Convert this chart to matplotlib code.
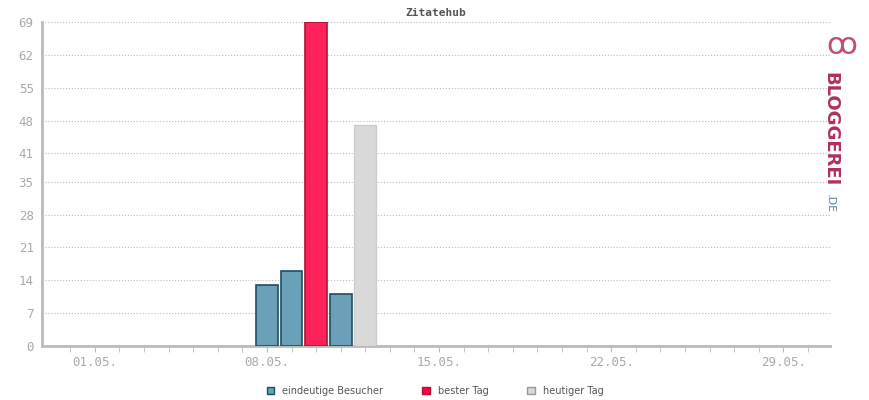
import matplotlib.pyplot as plt
import matplotlib.transforms as mtrans
from matplotlib.patches import Patch

blue_days = [8, 9, 11]
blue_vals = [13, 16, 11]
best_day = [10]
best_val = [69]
today_day = [12]
today_val = [47]
yticks = [0, 7, 14, 21, 28, 35, 41, 48, 55, 62, 69]
label_days = [1, 8, 15, 22, 29]
labels = ['01.05.', '08.05.', '15.05.', '22.05.', '29.05.']

fig = plt.figure(figsize=(8.7, 4), dpi=100)
ax = fig.add_axes([42/870, 1-346/400, (830-42)/870, (346-22)/400])
ax.bar(blue_days, blue_vals, width=0.88, color='#6aa0b8', edgecolor='#1f4e5f', linewidth=1.2, zorder=3)
ax.bar(best_day, best_val, width=0.88, color='#ff225a', edgecolor='#b0103a', linewidth=1.2, zorder=3)
ax.bar(today_day, today_val, width=0.88, color='#d9d9d9', edgecolor='#cccccc', linewidth=1, zorder=3)

ax.set_xlim(-1.15, 30.9)
ax.set_ylim(0, 69)
ax.set_yticks(yticks)
ax.set_yticklabels([str(v) for v in yticks], family='DejaVu Sans Mono', color='#aaaaaa', fontsize=9)
ax.set_xticks(range(0, 31), minor=True)
ax.set_xticks(label_days)
ax.set_xticklabels(labels, family='DejaVu Sans Mono', color='#aaaaaa', fontsize=9)
# labels sit a bit left of their ticks
off = mtrans.ScaledTranslation(-8/100, 0, fig.dpi_scale_trans)
for t in ax.get_xticklabels():
    t.set_transform(t.get_transform() + off)
ax.tick_params(axis='x', which='both', length=4, color='#bbbbbb', direction='out')
ax.tick_params(axis='y', length=0, pad=6)
ax.grid(axis='y', linestyle=':', color='#bbbbbb', linewidth=0.8, zorder=0)
for s in ['top', 'right']:
    ax.spines[s].set_visible(False)
for s in ['left', 'bottom']:
    ax.spines[s].set_color('#bbbbbb')
    ax.spines[s].set_linewidth(2)
ax.set_title('Zitatehub', family='DejaVu Sans Mono', fontsize=8, color='#555555', fontweight='bold', pad=4)

handles = [Patch(facecolor='#6aa0b8', edgecolor='#1f4e5f', label='eindeutige Besucher'),
           Patch(facecolor='#ff0040', edgecolor='#b0103a', label='bester Tag'),
           Patch(facecolor='#d9d9d9', edgecolor='#999999', label='heutiger Tag')]
fig.legend(handles=handles, loc='center', bbox_to_anchor=(0.5, 1-391/400), ncol=3, frameon=False,
           fontsize=7, handlelength=0.8, handleheight=0.8, columnspacing=4, labelcolor='#555555')

fig.text(830/870, 1-72/400, 'BLOGGEREI', rotation=-90, color='#b03060', fontsize=13, fontweight='bold',
         ha='center', va='top')
fig.text(830/870, 1-194/400, '.DE', rotation=-90, color='#5a7fa0', fontsize=8, ha='center', va='top')
fig.text(842/870, 1-45/400, 'ꝏ', color='#c05070', fontsize=22, ha='center', va='center')
fig.savefig('out.png', dpi=100)
